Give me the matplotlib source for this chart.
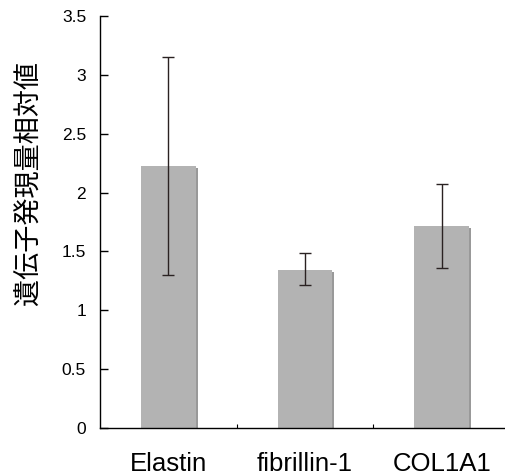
import matplotlib
matplotlib.use("Agg")
import matplotlib.pyplot as plt
import matplotlib.patheffects as pe

categories = ["Elastin", "fibrillin-1", "COL1A1"]
values = [2.226, 1.342, 1.716]
err_low = [1.30, 1.215, 1.362]
err_high = [3.15, 1.484, 2.07]
yticks = [0, 0.5, 1, 1.5, 2, 2.5, 3, 3.5]
ytick_labels = ["0", "0.5", "1", "1.5", "2", "2.5", "3", "3.5"]
ylabel = "遺伝子発現量相対値"

fig = plt.figure(figsize=(5.05, 4.75), dpi=100)
ax = fig.add_axes([100/505, 47/475, 410/505, 412/475])

x = list(range(len(categories)))
yerr = [[v - l for v, l in zip(values, err_low)], [h - v for v, h in zip(values, err_high)]]
bars = ax.bar(x, values, width=0.40, color="#b3b3b3", zorder=2)
for b in bars:
    b.set_path_effects([pe.SimplePatchShadow(offset=(1.5, -1.5), shadow_rgbFace="#999999", alpha=1.0), pe.Normal()])
ax.errorbar(x, values, yerr=yerr, fmt="none", ecolor="#2a2222", elinewidth=1.0,
            capsize=4, capthick=1.0, zorder=3)

ax.set_xlim(-0.5, 2.5)
ax.set_ylim(0, 3.5)
ax.set_yticks(yticks)
ax.set_yticklabels(ytick_labels, fontsize=12.5, family=["Liberation Sans", "DejaVu Sans"])
ax.set_xticks(x)
ax.set_xticklabels(categories, fontsize=18.5, family=["Liberation Sans", "DejaVu Sans"])
ax.set_xticks([0.5, 1.5, 2.5], minor=True)
ax.tick_params(axis="x", which="major", length=0, pad=17)
ax.tick_params(axis="x", which="minor", direction="in", length=3, width=0.8)
ax.tick_params(axis="y", direction="in", length=6, width=1, pad=10)

for s in ["top", "right"]:
    ax.spines[s].set_visible(False)
for s in ["left", "bottom"]:
    ax.spines[s].set_linewidth(1.0)
    ax.spines[s].set_color("black")

fig.text(29/505, 1 - 183/475, ylabel, rotation=90, ha="center", va="center",
         fontsize=19.5, family=["Noto Sans CJK JP", "DejaVu Sans"])

fig.savefig("out.png", dpi=100)
